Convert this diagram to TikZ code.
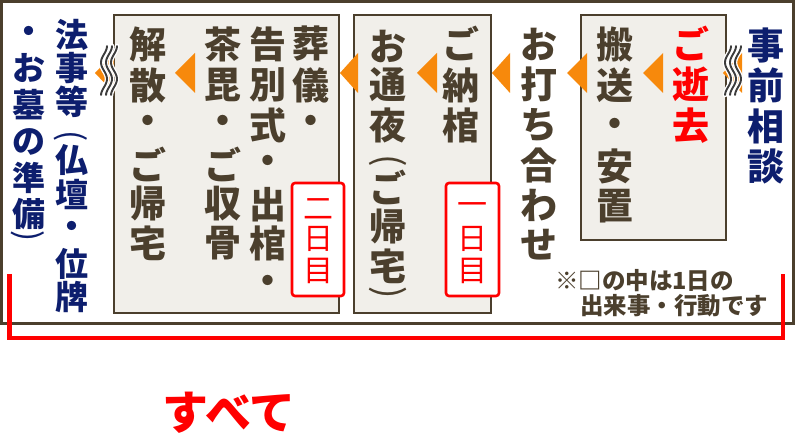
\documentclass[tikz,border=0pt]{standalone}
\usepackage{fontspec}
\newfontfamily\jp{Noto Sans CJK JP}
\definecolor{brn}{RGB}{75,63,45}
\definecolor{boxfill}{RGB}{241,239,234}
\definecolor{navy}{RGB}{13,30,110}
\definecolor{orng}{RGB}{247,137,12}
\definecolor{myred}{RGB}{255,0,0}
\definecolor{wavegray}{RGB}{60,60,60}
\newcommand\mycol[4]{%
  \foreach \c/\yy [count=\i] in {#4} {\node[#3] (#1-\i) at (#2,\yy) {\c};}}
\newcommand\mytri[2]{\fill[orng] (#1,73) -- (#2,53) -- (#2,93) -- cycle;}
\newcommand\mywave[3]{%
  \foreach \xx in {#1,#2,#3} {\draw[white,line width=4.6pt,line cap=round] plot[domain=0:49,samples=40,smooth] ({\xx+3*cos(10.909*\x)},{46+\x});}
  \foreach \xx in {#1,#2,#3} {\draw[wavegray,line width=1.9pt,line cap=round] plot[domain=0:49,samples=40,smooth] ({\xx+3*cos(10.909*\x)},{46+\x});}}
\begin{document}
\begin{tikzpicture}[x=1pt,y=-1pt,
  every node/.style={inner sep=0pt,outer sep=0pt},
  bigtxt/.style={font={\jp\bfseries\fontsize{37pt}{37pt}\selectfont},text=brn},
  navybig/.style={bigtxt,text=navy},
  redbig/.style={bigtxt,text=myred},
  navysmall/.style={font={\jp\bfseries\fontsize{33pt}{33pt}\selectfont},text=navy},
  bigparen/.style={font={\jp\fontsize{37pt}{37pt}\selectfont},text=brn,rotate=-90},
  smallparen/.style={font={\jp\fontsize{33pt}{33pt}\selectfont},text=navy,rotate=-90},
  daytxt/.style={font={\jp\fontsize{30pt}{30pt}\selectfont},text=myred},
  stagebox/.style={draw=brn,fill=boxfill,line width=2pt},
  daybox/.style={draw=myred,fill=white,line width=2.6pt,rounded corners=3pt},
  notetxt/.style={font={\jp\bfseries\fontsize{23.5pt}{23.5pt}\selectfont},text=brn,anchor=west},
]
\useasboundingbox (0,0) rectangle (796,438);
\fill[white] (0,0) rectangle (796,438);
% outer frame
\node[draw=brn,line width=2.4pt,minimum width=792pt,minimum height=322pt] (frame) at (397.5,162.5) {};
% stage boxes
\node[stagebox,minimum width=225pt,minimum height=298pt] (boxA) at (226.5,164) {};
\node[stagebox,minimum width=137pt,minimum height=298pt] (boxB) at (422.5,164) {};
\node[stagebox,minimum width=145pt,minimum height=225pt] (boxC) at (653.5,127.5) {};
% day boxes
\node[daybox,minimum width=52pt,minimum height=113pt] (day2) at (318,239.5) {};
\node[daybox,minimum width=53pt,minimum height=113pt] (day1) at (472.5,239.5) {};
% arrows
\mytri{723}{742}
\mytri{643}{663}
\mytri{567}{587}
\mytri{492}{510}
\mytri{417}{437}
\mytri{340}{358}
\mytri{175}{195}
\mytri{95}{114}
% wave marks
\mywave{728}{733}{738}
\mywave{104}{109}{114}
% texts
\mycol{soudan}{766}{navybig}{事/45.5,前/85,相/126.5,談/166.5}
\mycol{seikyo}{691}{redbig}{ご/43,逝/84,去/126}
\mycol{hanso}{615}{bigtxt}{搬/44,送/85,・/128,安/166,置/206}
\mycol{uchiawase}{539}{bigtxt}{お/44,打/84,ち/125,合/165,わ/205,せ/245}
\mycol{nokan}{461}{bigtxt}{ご/43,納/85,棺/125}
\mycol{tsuya}{388}{bigtxt}{お/46,通/85,夜/125,ご/187,帰/227,宅/266}
\node[bigparen] (tsuya-open) at (388,161) {(};
\node[bigparen] (tsuya-close) at (388,293) {)};
\mycol{sogi}{311}{bigtxt}{葬/44,儀/85,・/125}
\mycol{kokubetsu}{268}{bigtxt}{告/44,別/85,式/125,・/165,出/205,棺/243,・/285}
\mycol{dabi}{223}{bigtxt}{茶/44,毘/85,・/125,ご/164,収/204,骨/243}
\mycol{kaisan}{148}{bigtxt}{解/44,散/85,・/125,ご/164,帰/204,宅/243}
\mycol{hoji}{72}{navysmall}{法/35,事/68,等/102,仏/160,壇/195,・/230,位/264,牌/297}
\node[smallparen] (hoji-open) at (71,136) {(};
\mycol{ohaka}{29}{navysmall}{・/35,お/68,墓/105,の/142,準/178,備/214}
\node[smallparen] (ohaka-close) at (28,236) {)};
\mycol{dayA}{318}{daytxt}{二/209,日/239,目/271}
\mycol{dayB}{472}{daytxt}{一/209,日/239,目/271}
% note
\node[notetxt] (note1) at (555,281) {※□の中は1日の};
\node[notetxt] (note2) at (580,306) {出来事・行動です};
% red bracket
\draw[myred,line width=4.5pt] (9.5,274) -- (9.5,338) -- (783,338) -- (783,274);
\node[font={\jp\bfseries\fontsize{46pt}{46pt}\selectfont},text=myred] (subete) at (229,413) {すべて};
\end{tikzpicture}
\end{document}
